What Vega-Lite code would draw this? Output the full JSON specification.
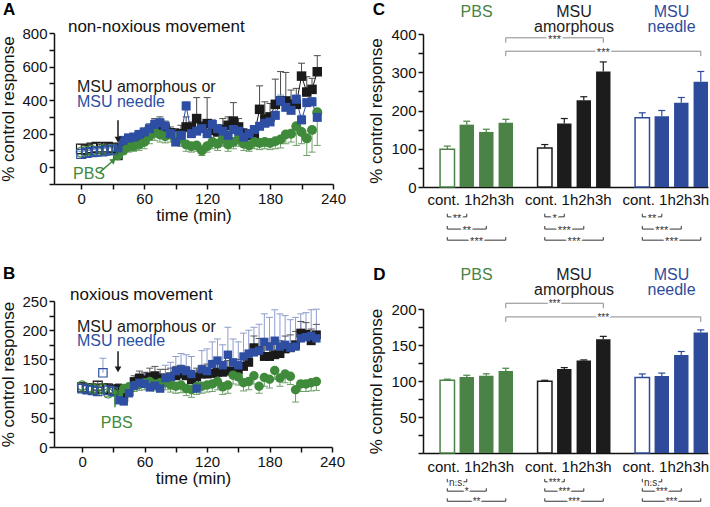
{
"$schema": "https://vega.github.io/schema/vega-lite/v6.json",
"width": 710, "height": 507,
"autosize": {"type": "none"},
"padding": 0,
"background": "white",
"config": {
  "view": {"stroke": null},
  "font": "Liberation Sans",
  "legend": {"disable": true},
  "axis": {"grid": false, "labelFont": "Liberation Sans", "titleFont": "Liberation Sans", "labelFontSize": 15, "titleFontSize": 17, "titleFontWeight": "normal", "labelColor": "#111", "titleColor": "#111", "domainColor": "#111", "tickColor": "#111", "domainWidth": 1.5, "tickWidth": 1.5, "tickSize": 5, "labelPadding": 2, "labelOverlap": false, "labelFlush": false},
  "text": {"font": "Liberation Sans"}
},
"datasets": {
  "ts_A": [
    {"g":"amorphous","t":0,"v":110,"eb":135},{"g":"amorphous","t":5,"v":105,"eb":128},{"g":"amorphous","t":10,"v":115,"eb":140},{"g":"amorphous","t":15,"v":120,"eb":145},{"g":"amorphous","t":20,"v":110,"eb":135},{"g":"amorphous","t":25,"v":120,"eb":142},{"g":"amorphous","t":30,"v":115,"eb":138},
    {"g":"amorphous","t":35,"v":70,"eb":85},{"g":"amorphous","t":40,"v":130,"eb":160},{"g":"amorphous","t":45,"v":150,"eb":175},{"g":"amorphous","t":50,"v":165,"eb":190},{"g":"amorphous","t":55,"v":180,"eb":205},{"g":"amorphous","t":60,"v":195,"eb":225},{"g":"amorphous","t":65,"v":215,"eb":260},{"g":"amorphous","t":70,"v":235,"eb":290},{"g":"amorphous","t":75,"v":245,"eb":300},{"g":"amorphous","t":80,"v":230,"eb":275},{"g":"amorphous","t":85,"v":205,"eb":240},{"g":"amorphous","t":90,"v":195,"eb":230},{"g":"amorphous","t":95,"v":200,"eb":250},{"g":"amorphous","t":100,"v":240,"eb":300},{"g":"amorphous","t":105,"v":235,"eb":270},{"g":"amorphous","t":110,"v":290,"eb":415},{"g":"amorphous","t":115,"v":240,"eb":270},{"g":"amorphous","t":120,"v":260,"eb":415},{"g":"amorphous","t":125,"v":220,"eb":270},{"g":"amorphous","t":130,"v":210,"eb":250},{"g":"amorphous","t":135,"v":225,"eb":290},{"g":"amorphous","t":140,"v":250,"eb":300},{"g":"amorphous","t":145,"v":275,"eb":385},{"g":"amorphous","t":150,"v":240,"eb":290},{"g":"amorphous","t":155,"v":200,"eb":230},{"g":"amorphous","t":160,"v":190,"eb":220},{"g":"amorphous","t":165,"v":195,"eb":240},{"g":"amorphous","t":170,"v":345,"eb":485},{"g":"amorphous","t":175,"v":288,"eb":390},{"g":"amorphous","t":180,"v":300,"eb":380},{"g":"amorphous","t":185,"v":375,"eb":525},{"g":"amorphous","t":190,"v":395,"eb":570},{"g":"amorphous","t":195,"v":395,"eb":565},{"g":"amorphous","t":200,"v":375,"eb":460},{"g":"amorphous","t":205,"v":375,"eb":470},{"g":"amorphous","t":210,"v":543,"eb":620},{"g":"amorphous","t":215,"v":448,"eb":540},{"g":"amorphous","t":220,"v":464,"eb":530},{"g":"amorphous","t":225,"v":569,"eb":665},
    {"g":"PBS","t":0,"v":90,"eb":75},{"g":"PBS","t":5,"v":95,"eb":80},{"g":"PBS","t":10,"v":100,"eb":85},{"g":"PBS","t":15,"v":95,"eb":80},{"g":"PBS","t":20,"v":105,"eb":90},{"g":"PBS","t":25,"v":100,"eb":85},{"g":"PBS","t":30,"v":105,"eb":90},
    {"g":"PBS","t":35,"v":70,"eb":55},{"g":"PBS","t":40,"v":100,"eb":75},{"g":"PBS","t":45,"v":120,"eb":90},{"g":"PBS","t":50,"v":125,"eb":95},{"g":"PBS","t":55,"v":135,"eb":100},{"g":"PBS","t":60,"v":150,"eb":110},{"g":"PBS","t":65,"v":185,"eb":140},{"g":"PBS","t":70,"v":205,"eb":160},{"g":"PBS","t":75,"v":195,"eb":150},{"g":"PBS","t":80,"v":185,"eb":145},{"g":"PBS","t":85,"v":195,"eb":150},{"g":"PBS","t":90,"v":185,"eb":140},{"g":"PBS","t":95,"v":170,"eb":125},{"g":"PBS","t":100,"v":135,"eb":95},{"g":"PBS","t":105,"v":125,"eb":90},{"g":"PBS","t":110,"v":130,"eb":95},{"g":"PBS","t":115,"v":100,"eb":70},{"g":"PBS","t":120,"v":125,"eb":90},{"g":"PBS","t":125,"v":150,"eb":110},{"g":"PBS","t":130,"v":140,"eb":100},{"g":"PBS","t":135,"v":170,"eb":125},{"g":"PBS","t":140,"v":135,"eb":95},{"g":"PBS","t":145,"v":150,"eb":110},{"g":"PBS","t":150,"v":170,"eb":125},{"g":"PBS","t":155,"v":140,"eb":100},{"g":"PBS","t":160,"v":130,"eb":95},{"g":"PBS","t":165,"v":150,"eb":110},{"g":"PBS","t":170,"v":145,"eb":105},{"g":"PBS","t":175,"v":150,"eb":110},{"g":"PBS","t":180,"v":145,"eb":105},{"g":"PBS","t":185,"v":155,"eb":110},{"g":"PBS","t":190,"v":165,"eb":115},{"g":"PBS","t":195,"v":195,"eb":140},{"g":"PBS","t":200,"v":200,"eb":150},{"g":"PBS","t":205,"v":244,"eb":130},{"g":"PBS","t":210,"v":210,"eb":140},{"g":"PBS","t":215,"v":172,"eb":70},{"g":"PBS","t":220,"v":222,"eb":90},{"g":"PBS","t":225,"v":327,"eb":130},
    {"g":"needle","t":0,"v":80,"eb":95},{"g":"needle","t":5,"v":85,"eb":100},{"g":"needle","t":10,"v":90,"eb":105},{"g":"needle","t":15,"v":95,"eb":110},{"g":"needle","t":20,"v":95,"eb":112},{"g":"needle","t":25,"v":100,"eb":115},{"g":"needle","t":30,"v":105,"eb":120},
    {"g":"needle","t":35,"v":115,"eb":130},{"g":"needle","t":40,"v":160,"eb":180},{"g":"needle","t":45,"v":175,"eb":195},{"g":"needle","t":50,"v":180,"eb":200},{"g":"needle","t":55,"v":195,"eb":220},{"g":"needle","t":60,"v":210,"eb":235},{"g":"needle","t":65,"v":230,"eb":260},{"g":"needle","t":70,"v":255,"eb":285},{"g":"needle","t":75,"v":265,"eb":290},{"g":"needle","t":80,"v":245,"eb":270},{"g":"needle","t":85,"v":200,"eb":225},{"g":"needle","t":90,"v":150,"eb":170},{"g":"needle","t":95,"v":190,"eb":210},{"g":"needle","t":100,"v":365,"eb":390},{"g":"needle","t":105,"v":200,"eb":225},{"g":"needle","t":110,"v":215,"eb":240},{"g":"needle","t":115,"v":230,"eb":255},{"g":"needle","t":120,"v":200,"eb":225},{"g":"needle","t":125,"v":255,"eb":285},{"g":"needle","t":130,"v":230,"eb":255},{"g":"needle","t":135,"v":215,"eb":240},{"g":"needle","t":140,"v":190,"eb":215},{"g":"needle","t":145,"v":225,"eb":250},{"g":"needle","t":150,"v":215,"eb":240},{"g":"needle","t":155,"v":180,"eb":200},{"g":"needle","t":160,"v":200,"eb":225},{"g":"needle","t":165,"v":225,"eb":245},{"g":"needle","t":170,"v":244,"eb":265},{"g":"needle","t":175,"v":262,"eb":285},{"g":"needle","t":180,"v":270,"eb":300},{"g":"needle","t":185,"v":309,"eb":350},{"g":"needle","t":190,"v":395,"eb":430},{"g":"needle","t":195,"v":357,"eb":400},{"g":"needle","t":200,"v":339,"eb":370},{"g":"needle","t":205,"v":405,"eb":430},{"g":"needle","t":210,"v":282,"eb":310},{"g":"needle","t":215,"v":385,"eb":400},{"g":"needle","t":220,"v":390,"eb":415},{"g":"needle","t":225,"v":297,"eb":330}
  ],
  "ts_B": [
    {"g":"amorphous","t":0,"v":102,"eb":110},{"g":"amorphous","t":5,"v":100,"eb":108},{"g":"amorphous","t":10,"v":100,"eb":108},{"g":"amorphous","t":15,"v":105,"eb":112},{"g":"amorphous","t":20,"v":100,"eb":108},{"g":"amorphous","t":25,"v":100,"eb":108},{"g":"amorphous","t":30,"v":98,"eb":106},
    {"g":"amorphous","t":35,"v":100,"eb":108},{"g":"amorphous","t":40,"v":85,"eb":95},{"g":"amorphous","t":45,"v":95,"eb":105},{"g":"amorphous","t":50,"v":112,"eb":122},{"g":"amorphous","t":55,"v":118,"eb":130},{"g":"amorphous","t":60,"v":115,"eb":128},{"g":"amorphous","t":65,"v":120,"eb":135},{"g":"amorphous","t":70,"v":122,"eb":138},{"g":"amorphous","t":75,"v":118,"eb":133},{"g":"amorphous","t":80,"v":118,"eb":133},{"g":"amorphous","t":85,"v":120,"eb":135},{"g":"amorphous","t":90,"v":122,"eb":138},{"g":"amorphous","t":95,"v":125,"eb":140},{"g":"amorphous","t":100,"v":122,"eb":138},{"g":"amorphous","t":105,"v":115,"eb":130},{"g":"amorphous","t":110,"v":120,"eb":135},{"g":"amorphous","t":115,"v":125,"eb":140},{"g":"amorphous","t":120,"v":125,"eb":142},{"g":"amorphous","t":125,"v":126,"eb":143},{"g":"amorphous","t":130,"v":128,"eb":145},{"g":"amorphous","t":135,"v":128,"eb":146},{"g":"amorphous","t":140,"v":130,"eb":148},{"g":"amorphous","t":145,"v":130,"eb":148},{"g":"amorphous","t":150,"v":132,"eb":150},{"g":"amorphous","t":155,"v":138,"eb":156},{"g":"amorphous","t":160,"v":145,"eb":165},{"g":"amorphous","t":165,"v":170,"eb":190},{"g":"amorphous","t":170,"v":165,"eb":186},{"g":"amorphous","t":175,"v":155,"eb":176},{"g":"amorphous","t":180,"v":155,"eb":178},{"g":"amorphous","t":185,"v":158,"eb":180},{"g":"amorphous","t":190,"v":160,"eb":182},{"g":"amorphous","t":195,"v":168,"eb":190},{"g":"amorphous","t":200,"v":170,"eb":192},{"g":"amorphous","t":205,"v":175,"eb":198},{"g":"amorphous","t":210,"v":195,"eb":215},{"g":"amorphous","t":215,"v":193,"eb":213},{"g":"amorphous","t":220,"v":182,"eb":202},{"g":"amorphous","t":225,"v":192,"eb":210},
    {"g":"PBS","t":0,"v":105,"eb":98},{"g":"PBS","t":5,"v":100,"eb":94},{"g":"PBS","t":10,"v":100,"eb":94},{"g":"PBS","t":15,"v":98,"eb":92},{"g":"PBS","t":20,"v":100,"eb":94},{"g":"PBS","t":25,"v":92,"eb":86},{"g":"PBS","t":30,"v":95,"eb":89},
    {"g":"PBS","t":35,"v":90,"eb":80},{"g":"PBS","t":40,"v":100,"eb":90},{"g":"PBS","t":45,"v":103,"eb":93},{"g":"PBS","t":50,"v":105,"eb":95},{"g":"PBS","t":55,"v":107,"eb":97},{"g":"PBS","t":60,"v":110,"eb":98},{"g":"PBS","t":65,"v":112,"eb":100},{"g":"PBS","t":70,"v":108,"eb":96},{"g":"PBS","t":75,"v":110,"eb":97},{"g":"PBS","t":80,"v":110,"eb":98},{"g":"PBS","t":85,"v":106,"eb":94},{"g":"PBS","t":90,"v":104,"eb":92},{"g":"PBS","t":95,"v":106,"eb":93},{"g":"PBS","t":100,"v":100,"eb":88},{"g":"PBS","t":105,"v":98,"eb":85},{"g":"PBS","t":110,"v":103,"eb":90},{"g":"PBS","t":115,"v":104,"eb":92},{"g":"PBS","t":120,"v":106,"eb":94},{"g":"PBS","t":125,"v":108,"eb":95},{"g":"PBS","t":130,"v":112,"eb":98},{"g":"PBS","t":135,"v":103,"eb":90},{"g":"PBS","t":140,"v":106,"eb":92},{"g":"PBS","t":145,"v":123,"eb":108},{"g":"PBS","t":150,"v":120,"eb":106},{"g":"PBS","t":155,"v":110,"eb":96},{"g":"PBS","t":160,"v":112,"eb":98},{"g":"PBS","t":165,"v":122,"eb":108},{"g":"PBS","t":170,"v":104,"eb":92},{"g":"PBS","t":175,"v":119,"eb":104},{"g":"PBS","t":180,"v":116,"eb":101},{"g":"PBS","t":185,"v":131,"eb":116},{"g":"PBS","t":190,"v":118,"eb":104},{"g":"PBS","t":195,"v":125,"eb":110},{"g":"PBS","t":200,"v":121,"eb":107},{"g":"PBS","t":205,"v":98,"eb":77},{"g":"PBS","t":210,"v":108,"eb":95},{"g":"PBS","t":215,"v":108,"eb":95},{"g":"PBS","t":220,"v":110,"eb":96},{"g":"PBS","t":225,"v":112,"eb":97},
    {"g":"needle","t":0,"v":100,"eb":108},{"g":"needle","t":5,"v":98,"eb":106},{"g":"needle","t":10,"v":97,"eb":105},{"g":"needle","t":15,"v":95,"eb":103},{"g":"needle","t":20,"v":127,"eb":152},{"g":"needle","t":25,"v":97,"eb":106},{"g":"needle","t":30,"v":95,"eb":103},
    {"g":"needle","t":35,"v":80,"eb":90},{"g":"needle","t":40,"v":78,"eb":92},{"g":"needle","t":45,"v":92,"eb":105},{"g":"needle","t":50,"v":105,"eb":118},{"g":"needle","t":55,"v":110,"eb":125},{"g":"needle","t":60,"v":108,"eb":125},{"g":"needle","t":65,"v":102,"eb":122},{"g":"needle","t":70,"v":105,"eb":128},{"g":"needle","t":75,"v":100,"eb":122},{"g":"needle","t":80,"v":118,"eb":140},{"g":"needle","t":85,"v":120,"eb":145},{"g":"needle","t":90,"v":130,"eb":155},{"g":"needle","t":95,"v":133,"eb":160},{"g":"needle","t":100,"v":130,"eb":158},{"g":"needle","t":105,"v":125,"eb":155},{"g":"needle","t":110,"v":100,"eb":125},{"g":"needle","t":115,"v":133,"eb":165},{"g":"needle","t":120,"v":130,"eb":168},{"g":"needle","t":125,"v":142,"eb":180},{"g":"needle","t":130,"v":148,"eb":185},{"g":"needle","t":135,"v":140,"eb":175},{"g":"needle","t":140,"v":158,"eb":205},{"g":"needle","t":145,"v":145,"eb":185},{"g":"needle","t":150,"v":140,"eb":180},{"g":"needle","t":155,"v":155,"eb":195},{"g":"needle","t":160,"v":160,"eb":200},{"g":"needle","t":165,"v":162,"eb":205},{"g":"needle","t":170,"v":165,"eb":210},{"g":"needle","t":175,"v":180,"eb":228},{"g":"needle","t":180,"v":172,"eb":222},{"g":"needle","t":185,"v":182,"eb":235},{"g":"needle","t":190,"v":172,"eb":228},{"g":"needle","t":195,"v":175,"eb":225},{"g":"needle","t":200,"v":170,"eb":218},{"g":"needle","t":205,"v":172,"eb":222},{"g":"needle","t":210,"v":186,"eb":228},{"g":"needle","t":215,"v":188,"eb":230},{"g":"needle","t":220,"v":190,"eb":235},{"g":"needle","t":225,"v":186,"eb":236}
  ],
  "ann_A": [{"g":"amorphous","t":-4.1,"v":478,"txt":"MSU amorphous or"},{"g":"needle","t":-4.1,"v":389,"txt":"MSU needle"},{"g":"PBS","t":-7.9,"v":-40,"txt":"PBS"}],
  "ttl_A": [{"t":-12.7,"v":835,"txt":"non-noxious movement"}],
  "let_A": [{"t":-74.6,"v":935,"txt":"A"},{"t":278,"v":940,"txt":"C"}],
  "arr_A": [{"g":"amorphous","t":35,"t2":35,"v":280,"v2":164},{"g":"PBS","t":17.8,"t2":30.8,"v":-29,"v2":41.7}],
  "ann_B": [{"g":"amorphous","t":-4.9,"v":205,"txt":"MSU amorphous or"},{"g":"needle","t":-4.9,"v":181,"txt":"MSU needle"},{"g":"PBS","t":17.9,"v":41,"txt":"PBS"}],
  "ttl_B": [{"t":-11.6,"v":260,"txt":"noxious movement"}],
  "let_B": [{"t":-76,"v":296,"txt":"B"},{"t":279.5,"v":294,"txt":"D"}],
  "arr_B": [{"g":"amorphous","t":34.5,"t2":34.5,"v":164,"v2":133},{"g":"PBS","t":31.6,"t2":31.6,"v":68,"v2":96}],
  "bar_C": [
    {"cat":"PBS|cont.","g":"PBS","t":"cont.","v":99,"eb":107},{"cat":"PBS|1h","g":"PBS","t":"1h","v":163,"eb":172},{"cat":"PBS|2h","g":"PBS","t":"2h","v":144,"eb":151},{"cat":"PBS|3h","g":"PBS","t":"3h","v":168,"eb":177},
    {"cat":"amorphous|cont.","g":"amorphous","t":"cont.","v":102,"eb":111},{"cat":"amorphous|1h","g":"amorphous","t":"1h","v":166,"eb":179},{"cat":"amorphous|2h","g":"amorphous","t":"2h","v":227,"eb":236},{"cat":"amorphous|3h","g":"amorphous","t":"3h","v":302,"eb":327},
    {"cat":"needle|cont.","g":"needle","t":"cont.","v":181,"eb":194},{"cat":"needle|1h","g":"needle","t":"1h","v":185,"eb":200},{"cat":"needle|2h","g":"needle","t":"2h","v":220,"eb":234},{"cat":"needle|3h","g":"needle","t":"3h","v":275,"eb":302}
  ],
  "bar_D": [
    {"cat":"PBS|cont.","g":"PBS","t":"cont.","v":101,"eb":102.5},{"cat":"PBS|1h","g":"PBS","t":"1h","v":105.6,"eb":108},{"cat":"PBS|2h","g":"PBS","t":"2h","v":107.4,"eb":110},{"cat":"PBS|3h","g":"PBS","t":"3h","v":114,"eb":117.7},
    {"cat":"amorphous|cont.","g":"amorphous","t":"cont.","v":99.5,"eb":101},{"cat":"amorphous|1h","g":"amorphous","t":"1h","v":116.7,"eb":118.6},{"cat":"amorphous|2h","g":"amorphous","t":"2h","v":128.4,"eb":129.3},{"cat":"amorphous|3h","g":"amorphous","t":"3h","v":158,"eb":162},
    {"cat":"needle|cont.","g":"needle","t":"cont.","v":104.7,"eb":109.8},{"cat":"needle|1h","g":"needle","t":"1h","v":107,"eb":111},{"cat":"needle|2h","g":"needle","t":"2h","v":136,"eb":141},{"cat":"needle|3h","g":"needle","t":"3h","v":167.4,"eb":171}
  ],
  "br_C": [
    {"from":"PBS|3h","to":"amorphous|3h","mid":"amorphous|cont.","half":true,"top":true,"lv":390,"tv":377,"lab":"***"},
    {"from":"PBS|3h","to":"needle|3h","mid":"amorphous|3h","half":false,"top":true,"lv":355,"tv":342,"lab":"***"},
    {"from":"PBS|cont.","to":"PBS|1h","mid":"PBS|cont.","half":true,"top":false,"lv":-78,"tv":-70,"lab":"**"},
    {"from":"PBS|cont.","to":"PBS|2h","mid":"PBS|1h","half":false,"top":false,"lv":-110,"tv":-102,"lab":"**"},
    {"from":"PBS|cont.","to":"PBS|3h","mid":"PBS|1h","half":true,"top":false,"lv":-139,"tv":-131,"lab":"***"},
    {"from":"amorphous|cont.","to":"amorphous|1h","mid":"amorphous|cont.","half":true,"top":false,"lv":-78,"tv":-70,"lab":"*"},
    {"from":"amorphous|cont.","to":"amorphous|2h","mid":"amorphous|1h","half":false,"top":false,"lv":-110,"tv":-102,"lab":"***"},
    {"from":"amorphous|cont.","to":"amorphous|3h","mid":"amorphous|1h","half":true,"top":false,"lv":-139,"tv":-131,"lab":"***"},
    {"from":"needle|cont.","to":"needle|1h","mid":"needle|cont.","half":true,"top":false,"lv":-78,"tv":-70,"lab":"**"},
    {"from":"needle|cont.","to":"needle|2h","mid":"needle|1h","half":false,"top":false,"lv":-110,"tv":-102,"lab":"***"},
    {"from":"needle|cont.","to":"needle|3h","mid":"needle|1h","half":true,"top":false,"lv":-139,"tv":-131,"lab":"***"}
  ],
  "br_D": [
    {"from":"PBS|3h","to":"amorphous|3h","mid":"amorphous|cont.","half":true,"top":true,"lv":208,"tv":201,"lab":"***"},
    {"from":"PBS|3h","to":"needle|3h","mid":"amorphous|3h","half":false,"top":true,"lv":189,"tv":182,"lab":"***"},
    {"from":"PBS|cont.","to":"PBS|1h","mid":"PBS|cont.","half":true,"top":false,"lv":-40,"tv":-36,"lab":"n.s."},
    {"from":"PBS|cont.","to":"PBS|2h","mid":"PBS|1h","half":false,"top":false,"lv":-53,"tv":-49,"lab":"*"},
    {"from":"PBS|cont.","to":"PBS|3h","mid":"PBS|1h","half":true,"top":false,"lv":-67,"tv":-63,"lab":"**"},
    {"from":"amorphous|cont.","to":"amorphous|1h","mid":"amorphous|cont.","half":true,"top":false,"lv":-40,"tv":-36,"lab":"***"},
    {"from":"amorphous|cont.","to":"amorphous|2h","mid":"amorphous|1h","half":false,"top":false,"lv":-53,"tv":-49,"lab":"***"},
    {"from":"amorphous|cont.","to":"amorphous|3h","mid":"amorphous|1h","half":true,"top":false,"lv":-67,"tv":-63,"lab":"***"},
    {"from":"needle|cont.","to":"needle|1h","mid":"needle|cont.","half":true,"top":false,"lv":-40,"tv":-36,"lab":"n.s."},
    {"from":"needle|cont.","to":"needle|2h","mid":"needle|1h","half":false,"top":false,"lv":-53,"tv":-49,"lab":"***"},
    {"from":"needle|cont.","to":"needle|3h","mid":"needle|1h","half":true,"top":false,"lv":-67,"tv":-63,"lab":"***"}
  ],
  "gt_C": [{"mid":"PBS|1h","g":"PBS","v":444,"txt":"PBS"},{"mid":"amorphous|1h","g":"amorphous","v":444,"txt":"MSU\namorphous"},{"mid":"needle|1h","g":"needle","v":444,"txt":"MSU\nneedle"}],
  "gt_D": [{"mid":"PBS|1h","g":"PBS","v":240,"txt":"PBS"},{"mid":"amorphous|1h","g":"amorphous","v":240,"txt":"MSU\namorphous"},{"mid":"needle|1h","g":"needle","v":240,"txt":"MSU\nneedle"}]
},
"resolve": {"scale": {"x": "independent", "y": "independent", "color": "independent", "stroke": "independent", "shape": "independent", "fill": "independent", "size": "independent"}, "axis": {"x": "independent", "y": "independent"}},
"layer": [
  {
    "data": {"name": "ts_A"},
    "layer": [
      {"mark": {"type": "rule", "strokeWidth": 1},
       "encoding": {
         "x": {"field": "t", "type": "quantitative", "title": "time (min)", "scale": {"domain": [-26, 240], "range": [54, 333], "nice": false, "zero": false}, "axis": {"orient": "bottom", "offset": -323, "values": [0,30,60,90,120,150,180,210,240], "labelExpr": "datum.value % 60 == 0 ? datum.label : ''", "title": "time (min)", "titlePadding": 1}},
         "y": {"field": "v", "type": "quantitative", "title": "% control response", "scale": {"domain": [-100, 800], "range": [184, 33], "nice": false, "zero": false}, "axis": {"orient": "left", "offset": -54, "values": [-100,0,100,200,300,400,500,600,700,800], "labelExpr": "datum.value >= 0 && datum.value % 200 == 0 ? datum.label : ''", "title": "% control response", "titlePadding": 4}},
         "y2": {"field": "eb"},
         "stroke": {"field": "g", "type": "nominal", "scale": {"domain": ["PBS","amorphous","needle"], "range": ["#6f9f69","#4a4a4a","#7d8fc6"]}}
       }},
      {"mark": {"type": "tick", "orient": "horizontal", "size": 7, "thickness": 1, "opacity": 1},
       "encoding": {
         "x": {"field": "t", "type": "quantitative"},
         "y": {"field": "eb", "type": "quantitative"},
         "fill": {"field": "g", "type": "nominal", "scale": {"domain": ["PBS","amorphous","needle"], "range": ["#6f9f69","#4a4a4a","#7d8fc6"]}}
       }},
      {"mark": {"type": "line", "strokeWidth": 1},
       "transform": [{"filter": "datum.t >= 35 && datum.g != 'PBS'"}],
       "encoding": {
         "x": {"field": "t", "type": "quantitative"},
         "y": {"field": "v", "type": "quantitative"},
         "color": {"field": "g", "type": "nominal", "scale": {"domain": ["PBS","amorphous","needle"], "range": ["#3f8a3b","#1a1a1a","#2d4ea3"]}}
       }},
      {"mark": {"type": "point", "filled": true, "opacity": 1},
       "transform": [{"filter": "datum.t >= 35"}],
       "encoding": {
         "x": {"field": "t", "type": "quantitative"},
         "y": {"field": "v", "type": "quantitative"},
         "color": {"field": "g", "type": "nominal"},
         "shape": {"field": "g", "type": "nominal", "scale": {"domain": ["PBS","amorphous","needle"], "range": ["circle","square","square"]}},
         "size": {"field": "g", "type": "nominal", "scale": {"domain": ["PBS","amorphous","needle"], "range": [100, 81, 81]}}
       }},
      {"mark": {"type": "point", "filled": false, "opacity": 1, "strokeWidth": 1.2},
       "transform": [{"filter": "datum.t < 35"}],
       "encoding": {
         "x": {"field": "t", "type": "quantitative"},
         "y": {"field": "v", "type": "quantitative"},
         "color": {"field": "g", "type": "nominal"},
         "shape": {"field": "g", "type": "nominal"},
         "size": {"field": "g", "type": "nominal"}
       }},
      {"data": {"name": "arr_A"},
       "mark": {"type": "rule", "strokeWidth": 1.5},
       "encoding": {
         "x": {"field": "t", "type": "quantitative"}, "x2": {"field": "t2"},
         "y": {"field": "v", "type": "quantitative"}, "y2": {"field": "v2"},
         "color": {"field": "g", "type": "nominal"}
       }},
      {"data": {"name": "arr_A"},
       "transform": [{"filter": "datum.g == 'amorphous'"}],
       "mark": {"type": "point", "shape": "triangle-down", "filled": true, "opacity": 1, "size": 45},
       "encoding": {
         "x": {"field": "t2", "type": "quantitative"},
         "y": {"field": "v2", "type": "quantitative"},
         "color": {"field": "g", "type": "nominal"}
       }},
      {"data": {"name": "arr_A"},
       "transform": [{"filter": "datum.g == 'PBS'"}],
       "mark": {"type": "point", "shape": "triangle-up", "filled": true, "opacity": 1, "size": 45, "angle": 49},
       "encoding": {
         "x": {"field": "t2", "type": "quantitative"},
         "y": {"field": "v2", "type": "quantitative"},
         "color": {"field": "g", "type": "nominal"}
       }},
      {"data": {"name": "ann_A"},
       "mark": {"type": "text", "align": "left", "baseline": "middle", "fontSize": 16},
       "encoding": {
         "x": {"field": "t", "type": "quantitative"},
         "y": {"field": "v", "type": "quantitative"},
         "text": {"field": "txt"},
         "color": {"field": "g", "type": "nominal"}
       }},
      {"data": {"name": "ttl_A"},
       "mark": {"type": "text", "align": "left", "baseline": "middle", "fontSize": 17, "color": "#111"},
       "encoding": {
         "x": {"field": "t", "type": "quantitative"},
         "y": {"field": "v", "type": "quantitative"},
         "text": {"field": "txt"}
       }},
      {"data": {"name": "let_A"},
       "mark": {"type": "text", "align": "left", "baseline": "middle", "fontSize": 17, "fontWeight": "bold", "color": "#000"},
       "encoding": {
         "x": {"field": "t", "type": "quantitative"},
         "y": {"field": "v", "type": "quantitative"},
         "text": {"field": "txt"}
       }}
    ]
  },
  {
    "data": {"name": "ts_B"},
    "layer": [
      {"mark": {"type": "rule", "strokeWidth": 1},
       "encoding": {
         "x": {"field": "t", "type": "quantitative", "title": "time (min)", "scale": {"domain": [-27, 240], "range": [54, 332], "nice": false, "zero": false}, "axis": {"orient": "bottom", "offset": -60, "values": [0,30,60,90,120,150,180,210,240], "labelExpr": "datum.value % 60 == 0 ? datum.label : ''", "title": "time (min)", "titlePadding": 1}},
         "y": {"field": "v", "type": "quantitative", "title": "% control response", "scale": {"domain": [0, 250], "range": [447, 301], "nice": false, "zero": false}, "axis": {"orient": "left", "offset": -54, "values": [0,25,50,75,100,125,150,175,200,225,250], "labelExpr": "datum.value % 50 == 0 ? datum.label : ''", "title": "% control response", "titlePadding": 4}},
         "y2": {"field": "eb"},
         "stroke": {"field": "g", "type": "nominal", "scale": {"domain": ["PBS","amorphous","needle"], "range": ["#6f9f69","#555555","#8e9dcc"]}}
       }},
      {"mark": {"type": "tick", "orient": "horizontal", "size": 7, "thickness": 1, "opacity": 1},
       "encoding": {
         "x": {"field": "t", "type": "quantitative"},
         "y": {"field": "eb", "type": "quantitative"},
         "fill": {"field": "g", "type": "nominal", "scale": {"domain": ["PBS","amorphous","needle"], "range": ["#6f9f69","#555555","#8e9dcc"]}}
       }},
      {"mark": {"type": "line", "strokeWidth": 1},
       "transform": [{"filter": "datum.t >= 35 && datum.g != 'PBS'"}],
       "encoding": {
         "x": {"field": "t", "type": "quantitative"},
         "y": {"field": "v", "type": "quantitative"},
         "color": {"field": "g", "type": "nominal", "scale": {"domain": ["PBS","amorphous","needle"], "range": ["#3f8a3b","#1a1a1a","#2d4ea3"]}}
       }},
      {"mark": {"type": "point", "filled": true, "opacity": 1},
       "transform": [{"filter": "datum.t >= 35"}],
       "encoding": {
         "x": {"field": "t", "type": "quantitative"},
         "y": {"field": "v", "type": "quantitative"},
         "color": {"field": "g", "type": "nominal"},
         "shape": {"field": "g", "type": "nominal", "scale": {"domain": ["PBS","amorphous","needle"], "range": ["circle","square","square"]}},
         "size": {"field": "g", "type": "nominal", "scale": {"domain": ["PBS","amorphous","needle"], "range": [90, 70, 70]}}
       }},
      {"mark": {"type": "point", "filled": false, "opacity": 1, "strokeWidth": 1.2},
       "transform": [{"filter": "datum.t < 35"}],
       "encoding": {
         "x": {"field": "t", "type": "quantitative"},
         "y": {"field": "v", "type": "quantitative"},
         "color": {"field": "g", "type": "nominal"},
         "shape": {"field": "g", "type": "nominal"},
         "size": {"field": "g", "type": "nominal"}
       }},
      {"data": {"name": "arr_B"},
       "mark": {"type": "rule", "strokeWidth": 1.5},
       "encoding": {
         "x": {"field": "t", "type": "quantitative"}, "x2": {"field": "t2"},
         "y": {"field": "v", "type": "quantitative"}, "y2": {"field": "v2"},
         "color": {"field": "g", "type": "nominal"}
       }},
      {"data": {"name": "arr_B"},
       "transform": [{"filter": "datum.g == 'amorphous'"}],
       "mark": {"type": "point", "shape": "triangle-down", "filled": true, "opacity": 1, "size": 45},
       "encoding": {
         "x": {"field": "t2", "type": "quantitative"},
         "y": {"field": "v2", "type": "quantitative"},
         "color": {"field": "g", "type": "nominal"}
       }},
      {"data": {"name": "arr_B"},
       "transform": [{"filter": "datum.g == 'PBS'"}],
       "mark": {"type": "point", "shape": "triangle-up", "filled": true, "opacity": 1, "size": 45},
       "encoding": {
         "x": {"field": "t2", "type": "quantitative"},
         "y": {"field": "v2", "type": "quantitative"},
         "color": {"field": "g", "type": "nominal"}
       }},
      {"data": {"name": "ann_B"},
       "mark": {"type": "text", "align": "left", "baseline": "middle", "fontSize": 16},
       "encoding": {
         "x": {"field": "t", "type": "quantitative"},
         "y": {"field": "v", "type": "quantitative"},
         "text": {"field": "txt"},
         "color": {"field": "g", "type": "nominal"}
       }},
      {"data": {"name": "ttl_B"},
       "mark": {"type": "text", "align": "left", "baseline": "middle", "fontSize": 17, "color": "#111"},
       "encoding": {
         "x": {"field": "t", "type": "quantitative"},
         "y": {"field": "v", "type": "quantitative"},
         "text": {"field": "txt"}
       }},
      {"data": {"name": "let_B"},
       "mark": {"type": "text", "align": "left", "baseline": "middle", "fontSize": 17, "fontWeight": "bold", "color": "#000"},
       "encoding": {
         "x": {"field": "t", "type": "quantitative"},
         "y": {"field": "v", "type": "quantitative"},
         "text": {"field": "txt"}
       }}
    ]
  },
  {
    "data": {"name": "bar_C"},
    "layer": [
      {"mark": {"type": "bar"},
       "transform": [{"filter": "datum.t != 'cont.'"}],
       "encoding": {
         "x": {"field": "cat", "type": "nominal", "title": null, "scale": {"type": "band", "domain": ["PBS|cont.","PBS|1h","PBS|2h","PBS|3h","gap1","amorphous|cont.","amorphous|1h","amorphous|2h","amorphous|3h","gap2","needle|cont.","needle|1h","needle|2h","needle|3h"], "range": [423, 708], "paddingInner": 0.26, "paddingOuter": 0.4375, "align": 1}, "axis": {"orient": "bottom", "offset": -320, "ticks": false, "labelAngle": 0, "labelPadding": 5, "labelOffset": 4, "labelExpr": "indexof(datum.value, '|1h') >= 0 ? 'cont. 1h2h3h' : ''", "title": null}},
         "y": {"field": "v", "type": "quantitative", "title": "% control response", "scale": {"domain": [0, 400], "range": [187, 34], "nice": false, "zero": false}, "axis": {"orient": "left", "offset": -423, "values": [0,50,100,150,200,250,300,350,400], "labelExpr": "datum.value % 100 == 0 ? datum.label : ''", "title": "% control response", "titlePadding": 5}},
         "color": {"field": "g", "type": "nominal", "scale": {"domain": ["PBS","amorphous","needle"], "range": ["#4a8345","#1c1c1c","#2e4b9b"]}}
       }},
      {"mark": {"type": "bar", "fill": "white", "strokeWidth": 1.5},
       "transform": [{"filter": "datum.t == 'cont.'"}],
       "encoding": {
         "x": {"field": "cat", "type": "nominal"},
         "y": {"field": "v", "type": "quantitative"},
         "stroke": {"field": "g", "type": "nominal", "scale": {"domain": ["PBS","amorphous","needle"], "range": ["#4a8345","#1c1c1c","#2e4b9b"]}}
       }},
      {"mark": {"type": "rule", "strokeWidth": 1.2},
       "encoding": {
         "x": {"field": "cat", "type": "nominal"},
         "y": {"field": "v", "type": "quantitative"},
         "y2": {"field": "eb"},
         "color": {"field": "g", "type": "nominal"}
       }},
      {"mark": {"type": "tick", "orient": "horizontal", "size": 7, "thickness": 1.2, "opacity": 1},
       "encoding": {
         "x": {"field": "cat", "type": "nominal"},
         "y": {"field": "eb", "type": "quantitative"},
         "color": {"field": "g", "type": "nominal"}
       }},
      {"data": {"name": "br_C"},
       "mark": {"type": "rule", "strokeWidth": 1},
       "encoding": {
         "x": {"field": "from", "type": "nominal", "bandPosition": 0.5},
         "x2": {"field": "to"},
         "y": {"field": "lv", "type": "quantitative"},
         "color": {"condition": {"test": "datum.top", "value": "#8a8a8a"}, "value": "#333333"}
       }},
      {"data": {"name": "br_C"},
       "mark": {"type": "rule", "strokeWidth": 1},
       "encoding": {
         "x": {"field": "from", "type": "nominal"},
         "y": {"field": "lv", "type": "quantitative"},
         "y2": {"field": "tv"},
         "color": {"condition": {"test": "datum.top", "value": "#8a8a8a"}, "value": "#333333"}
       }},
      {"data": {"name": "br_C"},
       "mark": {"type": "rule", "strokeWidth": 1},
       "encoding": {
         "x": {"field": "to", "type": "nominal"},
         "y": {"field": "lv", "type": "quantitative"},
         "y2": {"field": "tv"},
         "color": {"condition": {"test": "datum.top", "value": "#8a8a8a"}, "value": "#333333"}
       }},
      {"data": {"name": "br_C"},
       "transform": [{"filter": "!datum.half"}],
       "mark": {"type": "text", "align": "center", "baseline": "alphabetic", "dy": 5, "fontSize": 11, "fill": "white", "stroke": "white", "strokeWidth": 3},
       "encoding": {
         "x": {"field": "mid", "type": "nominal"},
         "y": {"field": "lv", "type": "quantitative"},
         "text": {"field": "lab"}
       }},
      {"data": {"name": "br_C"},
       "transform": [{"filter": "datum.half"}],
       "mark": {"type": "text", "align": "center", "baseline": "alphabetic", "dy": 5, "fontSize": 11, "fill": "white", "stroke": "white", "strokeWidth": 3},
       "encoding": {
         "x": {"field": "mid", "type": "nominal", "bandPosition": 1.176},
         "y": {"field": "lv", "type": "quantitative"},
         "text": {"field": "lab"}
       }},
      {"data": {"name": "br_C"},
       "transform": [{"filter": "!datum.half"}],
       "mark": {"type": "text", "align": "center", "baseline": "alphabetic", "dy": 5, "fontSize": 11, "color": "#333333"},
       "encoding": {
         "x": {"field": "mid", "type": "nominal"},
         "y": {"field": "lv", "type": "quantitative"},
         "text": {"field": "lab"}
       }},
      {"data": {"name": "br_C"},
       "transform": [{"filter": "datum.half"}],
       "mark": {"type": "text", "align": "center", "baseline": "alphabetic", "dy": 5, "fontSize": 11, "color": "#333333"},
       "encoding": {
         "x": {"field": "mid", "type": "nominal", "bandPosition": 1.176},
         "y": {"field": "lv", "type": "quantitative"},
         "text": {"field": "lab"}
       }},
      {"data": {"name": "gt_C"},
       "mark": {"type": "text", "align": "center", "baseline": "alphabetic", "fontSize": 16, "lineBreak": "\n", "lineHeight": 15},
       "encoding": {
         "x": {"field": "mid", "type": "nominal", "bandPosition": 1.176},
         "y": {"field": "v", "type": "quantitative"},
         "text": {"field": "txt"},
         "color": {"field": "g", "type": "nominal"}
       }}
    ]
  },
  {
    "data": {"name": "bar_D"},
    "layer": [
      {"mark": {"type": "bar"},
       "transform": [{"filter": "datum.t != 'cont.'"}],
       "encoding": {
         "x": {"field": "cat", "type": "nominal", "title": null, "scale": {"type": "band", "domain": ["PBS|cont.","PBS|1h","PBS|2h","PBS|3h","gap1","amorphous|cont.","amorphous|1h","amorphous|2h","amorphous|3h","gap2","needle|cont.","needle|1h","needle|2h","needle|3h"], "range": [423, 708], "paddingInner": 0.26, "paddingOuter": 0.4375, "align": 1}, "axis": {"orient": "bottom", "offset": -54, "ticks": false, "labelAngle": 0, "labelPadding": 6, "labelOffset": 4, "labelExpr": "indexof(datum.value, '|1h') >= 0 ? 'cont. 1h2h3h' : ''", "title": null}},
         "y": {"field": "v", "type": "quantitative", "title": "% control response", "scale": {"domain": [0, 200], "range": [453, 309], "nice": false, "zero": false}, "axis": {"orient": "left", "offset": -423, "values": [0,25,50,75,100,125,150,175,200], "labelExpr": "datum.value > 0 && datum.value % 50 == 0 ? datum.label : ''", "title": "% control response", "titlePadding": 5}},
         "color": {"field": "g", "type": "nominal", "scale": {"domain": ["PBS","amorphous","needle"], "range": ["#4a8345","#1c1c1c","#2e4b9b"]}}
       }},
      {"mark": {"type": "bar", "fill": "white", "strokeWidth": 1.5},
       "transform": [{"filter": "datum.t == 'cont.'"}],
       "encoding": {
         "x": {"field": "cat", "type": "nominal"},
         "y": {"field": "v", "type": "quantitative"},
         "stroke": {"field": "g", "type": "nominal", "scale": {"domain": ["PBS","amorphous","needle"], "range": ["#4a8345","#1c1c1c","#2e4b9b"]}}
       }},
      {"mark": {"type": "rule", "strokeWidth": 1.2},
       "encoding": {
         "x": {"field": "cat", "type": "nominal"},
         "y": {"field": "v", "type": "quantitative"},
         "y2": {"field": "eb"},
         "color": {"field": "g", "type": "nominal"}
       }},
      {"mark": {"type": "tick", "orient": "horizontal", "size": 7, "thickness": 1.2, "opacity": 1},
       "encoding": {
         "x": {"field": "cat", "type": "nominal"},
         "y": {"field": "eb", "type": "quantitative"},
         "color": {"field": "g", "type": "nominal"}
       }},
      {"data": {"name": "br_D"},
       "mark": {"type": "rule", "strokeWidth": 1},
       "encoding": {
         "x": {"field": "from", "type": "nominal", "bandPosition": 0.5},
         "x2": {"field": "to"},
         "y": {"field": "lv", "type": "quantitative"},
         "color": {"condition": {"test": "datum.top", "value": "#8a8a8a"}, "value": "#333333"}
       }},
      {"data": {"name": "br_D"},
       "mark": {"type": "rule", "strokeWidth": 1},
       "encoding": {
         "x": {"field": "from", "type": "nominal"},
         "y": {"field": "lv", "type": "quantitative"},
         "y2": {"field": "tv"},
         "color": {"condition": {"test": "datum.top", "value": "#8a8a8a"}, "value": "#333333"}
       }},
      {"data": {"name": "br_D"},
       "mark": {"type": "rule", "strokeWidth": 1},
       "encoding": {
         "x": {"field": "to", "type": "nominal"},
         "y": {"field": "lv", "type": "quantitative"},
         "y2": {"field": "tv"},
         "color": {"condition": {"test": "datum.top", "value": "#8a8a8a"}, "value": "#333333"}
       }},
      {"data": {"name": "br_D"},
       "transform": [{"filter": "!datum.half"}],
       "mark": {"type": "text", "align": "center", "baseline": "alphabetic", "dy": 4, "fontSize": 10, "fill": "white", "stroke": "white", "strokeWidth": 3},
       "encoding": {
         "x": {"field": "mid", "type": "nominal"},
         "y": {"field": "lv", "type": "quantitative"},
         "text": {"field": "lab"}
       }},
      {"data": {"name": "br_D"},
       "transform": [{"filter": "datum.half"}],
       "mark": {"type": "text", "align": "center", "baseline": "alphabetic", "dy": 4, "fontSize": 10, "fill": "white", "stroke": "white", "strokeWidth": 3},
       "encoding": {
         "x": {"field": "mid", "type": "nominal", "bandPosition": 1.176},
         "y": {"field": "lv", "type": "quantitative"},
         "text": {"field": "lab"}
       }},
      {"data": {"name": "br_D"},
       "transform": [{"filter": "!datum.half"}],
       "mark": {"type": "text", "align": "center", "baseline": "alphabetic", "dy": 4, "fontSize": 10, "color": "#333333"},
       "encoding": {
         "x": {"field": "mid", "type": "nominal"},
         "y": {"field": "lv", "type": "quantitative"},
         "text": {"field": "lab"}
       }},
      {"data": {"name": "br_D"},
       "transform": [{"filter": "datum.half"}],
       "mark": {"type": "text", "align": "center", "baseline": "alphabetic", "dy": 4, "fontSize": 10, "color": "#333333"},
       "encoding": {
         "x": {"field": "mid", "type": "nominal", "bandPosition": 1.176},
         "y": {"field": "lv", "type": "quantitative"},
         "text": {"field": "lab"}
       }},
      {"data": {"name": "gt_D"},
       "mark": {"type": "text", "align": "center", "baseline": "alphabetic", "fontSize": 16, "lineBreak": "\n", "lineHeight": 15},
       "encoding": {
         "x": {"field": "mid", "type": "nominal", "bandPosition": 1.176},
         "y": {"field": "v", "type": "quantitative"},
         "text": {"field": "txt"},
         "color": {"field": "g", "type": "nominal"}
       }}
    ]
  }
]
}
